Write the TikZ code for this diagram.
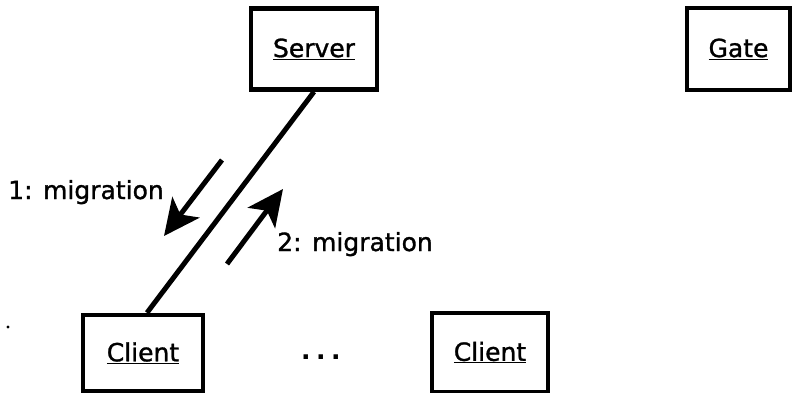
\documentclass[tikz,border=0pt]{standalone}
\usepackage{fontspec}
\setmainfont{DejaVu Sans}
\newfontfamily\lblfont{DejaVu Sans}[FakeBold=1.2]
\usetikzlibrary{arrows.meta}
\tikzset{
  obj/.style={draw, line width=4.5pt, fill=white, inner sep=0pt, font=\lblfont\fontsize{25}{30}\selectfont},
  lbl/.style={inner sep=0pt, font=\lblfont\fontsize{25}{30}\selectfont},
  link/.style={line width=5pt},
  msg/.style={line width=5pt, -{Stealth[length=36pt,width=34pt,inset=9pt]}},
}
\newcommand{\objname}[1]{\underline{#1}}
\begin{document}
\begin{tikzpicture}[x=1pt,y=-1pt]
  \useasboundingbox (0,0) rectangle (792,393);
  % objects
  \node[obj, minimum width=126pt, minimum height=81pt] (server) at (314,49) {\objname{Server}};
  \node[obj, minimum width=103pt, minimum height=82pt] (gate) at (738.5,49) {\objname{Gate}};
  \node[obj, minimum width=120pt, minimum height=76pt] (client1) at (143,353) {\objname{Client}};
  \node[obj, minimum width=116pt, minimum height=79pt] (client2) at (490,352.5) {\objname{Client}};
  % link between server and first client
  \draw[link] (server.south) -- ([xshift=4pt]client1.north);
  % messages along the link
  \coordinate (m1s) at (222,160);
  \coordinate (m1e) at (164,236);
  \coordinate (m2s) at (227,264);
  \coordinate (m2e) at (283,189);
  \draw[msg] (m1s) -- (m1e);
  \draw[msg] (m2s) -- (m2e);
  \node[lbl, anchor=base west] (l1) at (8,199) {1: migration};
  \node[lbl, anchor=base west] (l2) at (277,251) {2: migration};
  % ellipsis between clients
  \node[lbl, anchor=base west, font=\fontsize{25}{30}\selectfont\bfseries] (dots) at (301,359) {.\hspace{5.5pt}.\hspace{5.5pt}.};
  % small mark at the left margin
  \fill (8,327) circle (1.6pt);
\end{tikzpicture}
\end{document}
